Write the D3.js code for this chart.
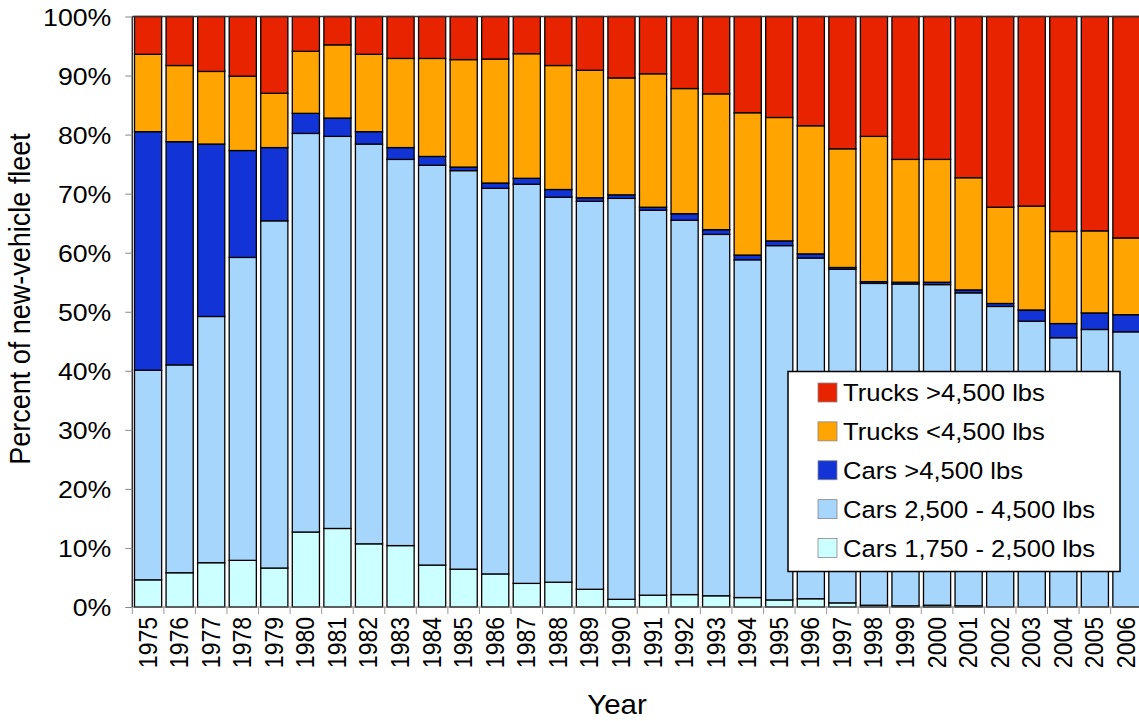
<!DOCTYPE html>
<html><head><meta charset="utf-8">
<script src="https://cdn.jsdelivr.net/npm/d3@7"></script>
<style>
html,body{margin:0;padding:0;background:#fff;overflow:hidden}
text{font-family:"Liberation Sans",Arial,sans-serif;fill:#000}
</style></head>
<body>
<svg id="chart" width="1139" height="721"></svg>
<script>
const years = ["1975","1976","1977","1978","1979","1980","1981","1982","1983","1984","1985","1986","1987","1988","1989","1990","1991","1992","1993","1994","1995","1996","1997","1998","1999","2000","2001","2002","2003","2004","2005","2006"];
const seriesNames = ["Cars 1,750 - 2,500 lbs","Cars 2,500 - 4,500 lbs","Cars >4,500 lbs","Trucks <4,500 lbs","Trucks >4,500 lbs"];
const seriesColors = ["#CCFFFF","#A6D6FC","#1234D6","#FFA400","#E82400"];
const carsSmall = [4.6,5.8,7.5,7.9,6.6,12.7,13.3,10.7,10.4,7.1,6.4,5.6,4.0,4.2,3.0,1.3,2.0,2.1,1.9,1.6,1.2,1.4,0.7,0.3,0.2,0.3,0.2,0.0,0.0,0.0,0.0,0.0];
const carsMid = [35.5,35.2,41.7,51.3,58.8,67.5,66.4,67.7,65.4,67.7,67.5,65.3,67.6,65.2,65.7,67.9,65.2,63.4,61.2,57.2,60.0,57.7,56.5,54.5,54.5,54.3,53.0,50.9,48.4,45.6,47.0,46.6];
const carsLarge = [40.4,37.8,29.2,18.1,12.4,3.4,3.1,2.1,2.0,1.5,0.6,0.9,1.0,1.3,0.6,0.6,0.5,1.1,0.8,0.8,0.8,0.7,0.3,0.3,0.3,0.4,0.5,0.5,1.9,2.4,2.8,2.9];
const trucksSmall = [13.1,12.9,12.3,12.6,9.2,10.5,12.4,13.1,15.1,16.6,18.2,21.0,21.1,21.0,21.6,19.8,22.6,21.2,23.0,24.1,20.9,21.7,20.1,24.6,20.8,20.8,19.0,16.3,17.6,15.6,13.9,13.0];
const trucksLarge = [6.4,8.3,9.3,10.1,13.0,5.9,4.8,6.4,7.1,7.1,7.3,7.2,6.3,8.3,9.1,10.4,9.7,12.2,13.1,16.3,17.1,18.5,22.4,20.3,24.2,24.2,27.3,32.3,32.1,36.4,36.3,37.5];
const yTicks = [0,10,20,30,40,50,60,70,80,90,100];

const seriesValues = [carsSmall, carsMid, carsLarge, trucksSmall, trucksLarge];
const table = years.map((y,i)=>{const o={year:y}; seriesNames.forEach((s,j)=>o[s]=seriesValues[j][i]); return o;});
const stacked = d3.stack().keys(seriesNames)(table);

const svg = d3.select("#chart");
const L = 132.3, R = 1142.2, T = 16.5, B = 607;
const SX = 1.09;
const x = d3.scaleBand().domain(years).range([L,R]).paddingInner(0.14).paddingOuter(0.07);
const y = d3.scaleLinear().domain([0,100]).range([B,T]);

// bars
svg.append("g").selectAll("g").data(stacked).join("g")
  .attr("fill",(d,i)=>seriesColors[i])
  .selectAll("rect").data(d=>d).join("rect")
  .attr("x",d=>x(d.data.year))
  .attr("width",x.bandwidth())
  .attr("y",d=>y(d[1]))
  .attr("height",d=>Math.max(0,y(d[0])-y(d[1])))
  .attr("stroke","#000").attr("stroke-width",1.3);

// plot border (top, left, bottom)
svg.append("line").attr("x1",L).attr("x2",1139).attr("y1",T).attr("y2",T).attr("stroke","#333").attr("stroke-width",1.5);
svg.append("line").attr("x1",L).attr("x2",L).attr("y1",T).attr("y2",B).attr("stroke","#333").attr("stroke-width",1.5);
svg.append("line").attr("x1",L).attr("x2",1139).attr("y1",B).attr("y2",B).attr("stroke","#666").attr("stroke-width",1.2);

// y axis
const yAxis = svg.append("g").attr("transform",`translate(${L},0)`)
  .call(d3.axisLeft(y).tickValues(yTicks).tickFormat(d=>d+"%").tickSize(7).tickSizeOuter(0));
yAxis.select(".domain").remove();
yAxis.selectAll(".tick line").attr("stroke","#888");
yAxis.selectAll(".tick text").attr("font-size",24.5).attr("font-family","Liberation Sans, Arial, sans-serif")
  .attr("x",0).attr("dy","0.35em").attr("transform",`translate(-21,0) scale(${SX},1)`);

// x axis ticks at band boundaries
const bounds = years.map(yv=>x(yv)-x.step()*x.paddingInner()/2);
svg.append("g").selectAll("line").data(bounds).join("line")
  .attr("x1",d=>d).attr("x2",d=>d).attr("y1",B).attr("y2",B+7).attr("stroke","#999").attr("stroke-width",1);
svg.append("g").selectAll("text").data(years).join("text")
  .attr("transform",d=>`translate(${x(d)+x.bandwidth()/2+8.5},617) rotate(-90) scale(1,${SX})`)
  .attr("text-anchor","end").attr("font-size",23).text(d=>d);

// axis titles
svg.append("text").attr("transform",`translate(30,299) rotate(-90) scale(1,${SX})`)
  .attr("text-anchor","middle").attr("font-size",27).text("Percent of new-vehicle fleet");
svg.append("text").attr("transform",`translate(617,714) scale(${SX},1)`)
  .attr("text-anchor","middle").attr("font-size",27).text("Year");

// legend
const lg = svg.append("g");
lg.append("rect").attr("x",788).attr("y",371.5).attr("width",332).attr("height",200)
  .attr("fill","#fff").attr("stroke","#000").attr("stroke-width",1.5);
const legOrder = [4,3,2,1,0];
const ls = d3.scalePoint().domain(legOrder).range([392.5,548]);
lg.selectAll("rect.sw").data(legOrder).join("rect").attr("class","sw")
  .attr("x",818).attr("y",d=>ls(d)-9.5).attr("width",19).attr("height",19)
  .attr("fill",d=>seriesColors[d]).attr("stroke","#888").attr("stroke-width",0.8);
lg.selectAll("text").data(legOrder).join("text")
  .attr("transform",d=>`translate(843,${ls(d)+8.5}) scale(${SX},1)`)
  .attr("font-size",23.5).text(d=>seriesNames[d]);
</script>
</body></html>
